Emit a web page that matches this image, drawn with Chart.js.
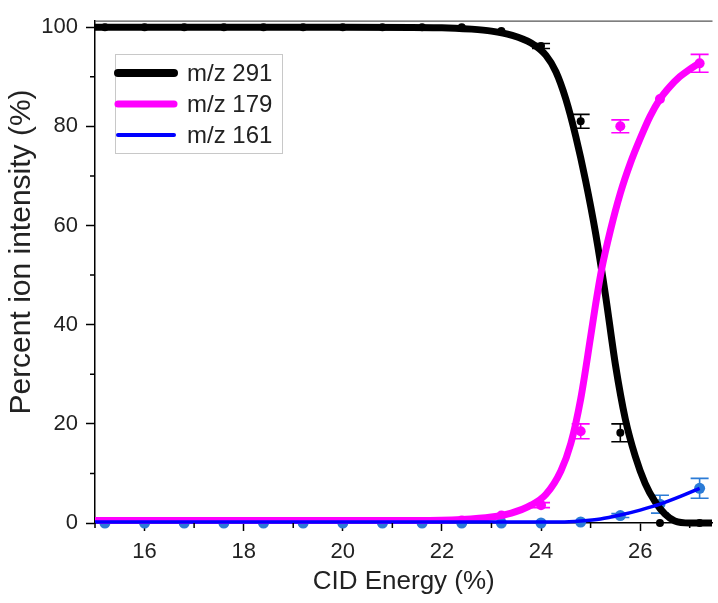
<!DOCTYPE html>
<html lang="en">
<head>
<meta charset="UTF-8">
<title>CID Energy breakdown</title>
<script src="https://cdn.jsdelivr.net/npm/chart.js"></script>
<style>
  html, body { margin: 0; padding: 0; background: #fff; }
  #wrap { width: 718px; height: 603px; }
</style>
</head>
<body>
<div id="wrap"><canvas id="cid" width="718" height="603"></canvas></div>
<script>
// measured points (CID energy, %)
const energy = [15.2, 16.0, 16.8, 17.6, 18.4, 19.2, 20.0, 20.8, 21.6, 22.4, 23.2, 24.0, 24.8, 25.6, 26.4, 27.2];
const mz291 = [100, 100, 100, 100, 100, 100, 100, 100, 100, 100, 99.2, 96.2, 81.0, 18.2, 0, 0];
const mz291Err = [0, 0, 0, 0, 0, 0, 0, 0, 0, 0, 0, 0.5, 1.4, 1.8, 0, 0];
const mz179 = [0, 0, 0, 0, 0, 0, 0, 0, 0, 0.5, 1.5, 3.6, 18.5, 80.0, 85.5, 92.7];
const mz179Err = [0, 0, 0, 0, 0, 0, 0, 0, 0, 0, 0, 0.5, 1.5, 1.3, 0, 1.8];
const mz161 = [0, 0, 0, 0, 0, 0, 0, 0, 0, 0, 0, 0, 0.2, 1.5, 3.8, 7.0];
const mz161Err = [0, 0, 0, 0, 0, 0, 0, 0, 0, 0, 0, 0, 0, 0.4, 1.8, 2.0];

// fitted curves
const fit291X = [15.0, 20.0, 22.0, 22.6, 23.0, 23.4, 23.8, 24.1, 24.3, 24.5, 24.7, 24.9, 25.1, 25.3, 25.5, 25.7, 25.9, 26.1, 26.3, 26.5, 26.7, 27.0, 27.45];
const fit291Y = [100, 100, 99.9, 99.6, 99.2, 98.4, 96.8, 94.3, 91.0, 85.5, 78.0, 69.0, 58.5, 46.0, 32.0, 21.0, 13.5, 8.0, 4.3, 1.8, 0.4, 0, 0];
const fit179X = [15.0, 21.5, 22.4, 23.0, 23.4, 23.8, 24.1, 24.4, 24.6, 24.8, 25.0, 25.1, 25.22, 25.4, 25.6, 25.8, 26.0, 26.2, 26.4, 26.6, 26.8, 27.0, 27.2];
const fit179Y = [0.5, 0.5, 0.7, 1.2, 2.0, 3.6, 5.8, 10.5, 16.0, 25.0, 37.5, 44.0, 51.0, 59.0, 66.5, 72.5, 77.5, 82.0, 85.5, 88.0, 90.0, 91.5, 92.8];
const fit161X = [15.0, 24.4, 24.8, 25.2, 25.6, 26.0, 26.4, 26.8, 27.2];
const fit161Y = [0.2, 0.2, 0.4, 0.8, 1.6, 2.6, 3.8, 5.3, 7.0];

// axes
const xTicks = [16, 18, 20, 22, 24, 26];
const xMinor = [15, 17, 19, 21, 23, 25, 27];
const yTicks = [0, 20, 40, 60, 80, 100];
const yMinor = [10, 30, 50, 70, 90];

const FONT = 'Liberation Sans, Arial, sans-serif';
const BLUE_PT = '#2b7bd6';

const pts = (ys) => energy.map((x, i) => ({ x: x, y: ys[i] }));
const curve = (xs, ys) => xs.map((x, i) => ({ x: x, y: ys[i] }));

function pointSet(ys, errs, color, r, order) {
  return {
    data: pts(ys), errors: errs, showLine: false,
    pointRadius: r, pointBackgroundColor: color, pointBorderColor: color,
    pointBorderWidth: 0, clip: false, order: order
  };
}
function fitSet(label, xs, ys, color, w, legendW, order) {
  return {
    label: label, data: curve(xs, ys), showLine: true, borderColor: color,
    borderWidth: w, legendWidth: legendW, pointRadius: 0, cubicInterpolationMode: 'monotone',
    clip: false, order: order
  };
}

const extras = {
  id: 'extras',
  afterDatasetDraw(chart, args) {
    const ds = chart.data.datasets[args.index];
    if (!ds.errors) return;
    const ctx = chart.ctx, y = chart.scales.y;
    ctx.save();
    ctx.strokeStyle = ds.pointBackgroundColor;
    ctx.lineWidth = 1.6;
    args.meta.data.forEach((p, i) => {
      const e = ds.errors[i];
      if (!e) return;
      const v = ds.data[i].y;
      const t = y.getPixelForValue(v + e), b = y.getPixelForValue(v - e);
      ctx.beginPath();
      ctx.moveTo(p.x, t); ctx.lineTo(p.x, b);
      ctx.moveTo(p.x - 9, t); ctx.lineTo(p.x + 9, t);
      ctx.moveTo(p.x - 9, b); ctx.lineTo(p.x + 9, b);
      ctx.stroke();
    });
    ctx.restore();
  },
  afterDraw(chart) {
    const ctx = chart.ctx, a = chart.chartArea;
    const xs = chart.scales.x, ys = chart.scales.y;
    ctx.save();
    // top frame line
    ctx.strokeStyle = '#555';
    ctx.lineWidth = 1.2;
    ctx.beginPath();
    ctx.moveTo(a.left, a.top); ctx.lineTo(a.right, a.top);
    ctx.stroke();
    // minor ticks
    ctx.strokeStyle = '#000';
    ctx.lineWidth = 1.5;
    ctx.beginPath();
    xMinor.forEach(v => {
      const px = xs.getPixelForValue(v);
      ctx.moveTo(px, a.bottom); ctx.lineTo(px, a.bottom + 5);
    });
    yMinor.forEach(v => {
      const py = ys.getPixelForValue(v);
      ctx.moveTo(a.left, py); ctx.lineTo(a.left - 5, py);
    });
    ctx.stroke();
    // y title
    ctx.fillStyle = '#222';
    ctx.font = '30px ' + FONT;
    ctx.textAlign = 'center';
    ctx.textBaseline = 'middle';
    ctx.translate(22, 252);
    ctx.rotate(-Math.PI / 2);
    ctx.fillText('Percent ion intensity (%)', 0, 0);
    ctx.restore();

    // legend
    ctx.save();
    ctx.fillStyle = '#fff';
    ctx.fillRect(115, 54, 167, 99);
    ctx.strokeStyle = '#c8c8c8';
    ctx.lineWidth = 1;
    ctx.strokeRect(115.5, 54.5, 167, 99);
    ctx.font = '24px ' + FONT;
    ctx.textBaseline = 'middle';
    ctx.textAlign = 'left';
    ctx.lineCap = 'round';
    chart.data.datasets.filter(d => d.label).forEach((d, i) => {
      const ly = 73 + i * 31;
      ctx.strokeStyle = d.borderColor;
      ctx.lineWidth = d.legendWidth;
      ctx.beginPath();
      ctx.moveTo(118, ly); ctx.lineTo(174, ly);
      ctx.stroke();
      ctx.fillStyle = '#222';
      ctx.fillText(d.label, 187, ly + 1);
    });
    ctx.restore();
  }
};

new Chart(document.getElementById('cid'), {
  type: 'scatter',
  data: {
    datasets: [
      fitSet('m/z 291', fit291X, fit291Y, '#000000', 7, 8, 3),
      fitSet('m/z 179', fit179X, fit179Y, '#ff00ff', 7, 7, 2),
      fitSet('m/z 161', fit161X, fit161Y, '#0000ff', 3.5, 4, 1),
      pointSet(mz291, mz291Err, '#000000', 4, 6),
      pointSet(mz179, mz179Err, '#ff00ff', 5, 5),
      pointSet(mz161, mz161Err, BLUE_PT, 5.5, 4)
    ]
  },
  options: {
    responsive: false,
    devicePixelRatio: 1,
    animation: false,
    layout: { padding: { top: 17, right: 0, left: 0, bottom: 0 } },
    plugins: { legend: { display: false }, tooltip: { enabled: false } },
    scales: {
      x: {
        type: 'linear', min: 15, max: 27.46,
        afterBuildTicks: s => { s.ticks = xTicks.map(v => ({ value: v })); },
        afterFit: s => { s.height = 80; },
        grid: { drawOnChartArea: false, tickLength: 8, tickWidth: 1.5, tickColor: '#000' },
        border: { color: '#000', width: 1.5 },
        ticks: { color: '#222', padding: 8, font: { family: FONT, size: 22 }, maxRotation: 0 },
        title: { display: true, text: 'CID Energy (%)', color: '#222', padding: { top: 0, bottom: 6 },
                 font: { family: FONT, size: 26 } }
      },
      y: {
        min: 0, max: 101.2,
        afterBuildTicks: s => { s.ticks = yTicks.map(v => ({ value: v })); },
        afterFit: s => { s.width = 95; },
        grid: { drawOnChartArea: false, tickLength: 9, tickWidth: 1.5, tickColor: '#000' },
        border: { color: '#000', width: 1.5 },
        ticks: { color: '#222', padding: 8, font: { family: FONT, size: 22 } }
      }
    }
  },
  plugins: [extras]
});
</script>
</body>
</html>
